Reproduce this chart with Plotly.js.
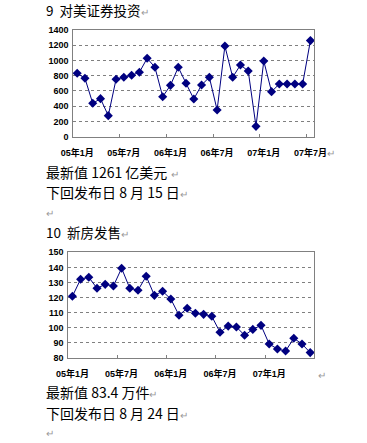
<!DOCTYPE html>
<html><head><meta charset="utf-8">
<script src="https://cdn.plot.ly/plotly-3.0.1.min.js"></script>
<style>html,body{margin:0;padding:0;background:#fff;}#chart{width:367px;height:443px;}</style>
</head><body><div id="chart"></div>
<script>
// Chart 9: 对美证券投资 (亿美元), 05年1月 - 07年7月
const months1 = ["05年1月","05年2月","05年3月","05年4月","05年5月","05年6月","05年7月","05年8月","05年9月","05年10月","05年11月","05年12月",
  "06年1月","06年2月","06年3月","06年4月","06年5月","06年6月","06年7月","06年8月","06年9月","06年10月","06年11月","06年12月",
  "07年1月","07年2月","07年3月","07年4月","07年5月","07年6月","07年7月"];
const invest = [832,766,438,499,276,753,780,806,845,1029,911,525,674,911,701,495,678,780,350,1190,780,941,862,136,993,591,691,691,691,691,1261];
const yTicks1 = [0,200,400,600,800,1000,1200,1400];

// Chart 10: 新房发售 (万件), 05年1月 - 07年6月
const months2 = months1.slice(0,30);
const homes = [120.8,132.1,133.4,126.1,128.7,127.6,139.4,126.1,124.8,134.1,121.4,124.1,119,108.2,112.8,109.5,108.8,107.5,96.9,101,100.4,94.9,98.8,101.5,89.1,85.8,84.4,92.9,89.1,83.4];
const yTicks2 = [80,90,100,110,120,130,140,150];

const W = 367, H = 443;
const px = v => v / W, py = v => 1 - v / H;
const navy = "#000080", frame = "#808080";
const tickFont = {family: "Arial, Liberation Sans, Noto Sans CJK SC, sans-serif", size: 9, color: "#000", weight: "bold"};
const cjk = "Noto Sans CJK SC, sans-serif";

function xax(domain, anchor, cats) {
  return {domain, anchor, type: "category", categoryorder: "array", categoryarray: cats,
    range: [-0.5, cats.length - 0.5], tickmode: "linear", tick0: 0, dtick: 6, tickson: "boundaries",
    tickangle: 0, ticks: "inside", ticklen: 3, tickcolor: frame, showgrid: false, showline: true, linecolor: frame,
    linewidth: 1, mirror: true, tickfont: tickFont, ticklabelstandoff: 7, fixedrange: true, automargin: false};
}
function yax(domain, anchor, range, vals) {
  return {domain, anchor, range, tickmode: "array", tickvals: vals, ticks: "", showgrid: true,
    gridcolor: frame, griddash: "3px,3px", gridwidth: 1, showline: true, linecolor: frame, mirror: true,
    zeroline: false, tickfont: tickFont, ticklabelstandoff: 2, fixedrange: true, automargin: false};
}

const data = [
  {x: months1, y: invest, xaxis: "x", yaxis: "y", type: "scatter", mode: "lines+markers",
   line: {color: navy, width: 1}, marker: {symbol: "diamond", size: 7, color: navy}, cliponaxis: false},
  {x: months2, y: homes, xaxis: "x2", yaxis: "y2", type: "scatter", mode: "lines+markers",
   line: {color: navy, width: 1}, marker: {symbol: "diamond", size: 7, color: navy}, cliponaxis: false}
];

function txt(x, y, text, size, color) {
  return {xref: "paper", yref: "paper", x: px(x), y: py(y), xanchor: "left", yanchor: "middle",
    text, showarrow: false, font: {family: cjk, size: size || 14, color: color || "#000"}};
}
const ret = "<span style='color:#999;font-size:10px'>↵</span>";

const layout = {
  width: W, height: H, margin: {l: 0, r: 0, t: 0, b: 0}, showlegend: false,
  paper_bgcolor: "#fff", plot_bgcolor: "#fff",
  xaxis: xax([px(73.3), px(314.3)], "y", months1),
  yaxis: yax([py(136.7), py(30)], "x", [0, 1400], yTicks1),
  xaxis2: xax([px(68.3), px(314.3)], "y2", months2),
  yaxis2: yax([py(357.7), py(252.3)], "x2", [80, 150], yTicks2),
  annotations: [
    txt(44, 10, "9  对美证券投资" + ret, 13.5),
    txt(44, 172, "最新值 1261 亿美元 " + ret),
    txt(44, 192, "下回发布日 8 月 15 日" + ret),
    txt(44, 212, ret),
    txt(44, 232, "10  新房发售" + ret, 13.5),
    txt(44, 392, "最新值 83.4 万件" + ret),
    txt(44, 413, "下回发布日 8 月 24 日" + ret),
    txt(44, 432, ret),
    txt(325, 152, ret),
    txt(316, 374, ret)
  ]
};
Plotly.newPlot("chart", data, layout, {staticPlot: true, displayModeBar: false});
</script></body></html>
